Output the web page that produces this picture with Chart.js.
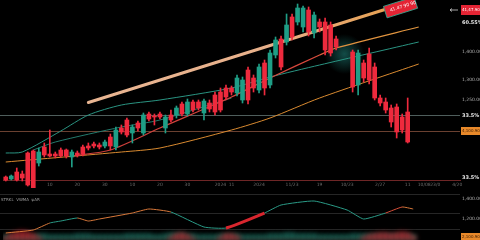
<!DOCTYPE html>
<html>
<head>
<meta charset="utf-8">
<script src="https://cdn.jsdelivr.net/npm/chart.js@4.4.1/dist/chart.umd.min.js"></script>
<style>
  html, body { margin: 0; padding: 0; background: #000; }
  #wrap { position: relative; width: 480px; height: 240px; overflow: hidden; background: #000; }
  #mainBox { position: absolute; left: 0; top: 0; width: 480px; height: 188px; }
  #subBox { position: absolute; left: 0; top: 190px; width: 480px; height: 50px; }
</style>
</head>
<body>
<div id="wrap">
  <div id="mainBox"><canvas id="mainChart"></canvas></div>
  <div id="subBox"><canvas id="subChart"></canvas></div>
</div>
<script>
const slots = 83;

// x axis tick labels (category index -> text)
const tickIdx = [8, 13, 18, 23, 28, 33, 39, 41, 46, 52, 57, 62, 68, 73, 76, 78, 82];
const tickText = ['10', '20', '30', '10', '20', '30', '2024', '11', '2024', '11/23', '19', '10/23', '2/27', '11', '10/08', '23/0', '4/20'];

// candles, one per category (null = no candle)
const openP = [303, 301, 308, 306, 327, 329, 317, 333, 326, 326, 330, 330, 323, 327, 333, 334, 336, 335, 334, 343,
  333, 352, 360, 347, 357, 347, 366, 364, 366, 352, 365, 365, 376, 366, 378, 378, 367, 377, 385, 388,
  392, 392, 387, 380, 410, 402, 390, 417, 395, 425, 441, 438, 463, 458, 453, 470, 447, 458, 458, 455,
  441, null, null, 428, 395, 417, 426, 413, 382, 378, 372, 373, 363, 368];
const closeP = [300, 304, 300, 302, 295, 290, 328, 325, 324, 324, 324, 324, 328, 325, 326, 332, 334, 333, 338, 334,
  350, 348, 345, 353, 352, 365, 361, 363, 363, 363, 360, 372, 366, 378, 370, 372, 379, 371, 368, 370,
  383, 388, 402, 400, 380, 392, 413, 392, 427, 440, 413, 455, 443, 472, 472, 448, 465, 453, 430, 427,
  433, null, null, 393, 427, 402, 400, 382, 377, 370, 358, 348, 350, 338];
const highP = [304, 305, 312, 309, 328, 330, 332, 337, 350, 328, 332, 331, 330, 329, 335, 337, 338, 337, 340, 346,
  353, 355, 362, 355, 359, 367, 368, 366, 368, 365, 370, 374, 378, 381, 380, 380, 381, 380, 388, 392,
  395, 394, 405, 403, 413, 405, 416, 420, 430, 443, 444, 466, 466, 476, 474, 473, 468, 461, 462, 458,
  444, null, null, 430, 430, 420, 432, 417, 385, 382, 375, 376, 366, 382];
const lowP = [299, 300, 299, 299, 294, 289, 314, 323, 323, 322, 323, 322, 313, 323, 324, 330, 332, 331, 332, 330,
  330, 346, 343, 337, 349, 345, 359, 355, 361, 347, 358, 362, 364, 364, 368, 370, 360, 368, 365, 368,
  380, 385, 384, 377, 376, 388, 387, 385, 392, 422, 410, 435, 440, 455, 448, 444, 442, 448, 425, 424,
  430, null, null, 388, 385, 398, 396, 380, 374, 367, 353, 342, 347, 337];

// moving averages and trend line: vertices (category index -> price)
const maFastIdx = [12, 19, 28, 41, 48, 57, 60, 75];
const maFastVal = [324, 330, 352, 383, 402, 425, 432, 453];
const maMidIdx = [0, 3, 10, 15, 21, 28, 41, 48, 57, 75];
const maMidVal = [327, 328, 349, 365, 375, 380, 392, 403, 415, 438];
const maSlowIdx = [0, 21, 28, 41, 48, 57, 75];
const maSlowVal = [318, 328, 332, 350, 362, 382, 416];
const bandIdx = [5, 9, 21, 28, 41];
const bandVal = [330, 338, 353, 360, 382];
const trendIdx = [15, 69];
const trendVal = [377.5, 470.8];

// horizontal levels
const levelVals = [365, 349];

// right side price labels
const priceLabelVals = [470, 457, 428, 400, 380, 364, 349, 302];
const priceLabelText = ['41,47.90', '60.55%', '1,400.00', '1,300.00', '1,250.00', '33.5%', '4,100.90', '33.5%'];
const trendTagText = '41.47 90 90';

// oscillator panel
const oscIdx = [0, 5, 8, 10, 13, 15, 17, 23, 26, 30, 36, 40, 47, 50, 56, 62, 65, 69, 72, 74];
const oscVal = [7, 10, 17, 19, 22, 19, 21, 27, 31, 28, 13, 12, 27, 35, 39, 30, 21, 27, 33, 31];
const tealVol = [5, 5, 5, 5, 5, 5, 6, 6, 5, 5, 5, 5, 5, 6, 6, 6, 5, 5, 5, 5,
  5, 5, 6, 6, 6, 6, 6, 5, 5, 6, 7, 7, 7, 6, 6, 5, 5, 5, 5, 6,
  6, 6, 6, 5, 5, 5, 5, 5, 6, 6, 6, 7, 7, 6, 6, 6, 6, 5, 5, 5,
  5, 5, 5, 6, 6, 6, 6, 6, 6, 6, 6, 6, 6, 6, 5];
const redVol = [3, 6, 8, 9, 8, 6, 3, 0, 0, 0, 0, 0, 0, 0, 0, 0, 0, 0, 0, 0,
  0, 0, 0, 0, 0, 0, 0, 0, 0, 0, 3, 6, 7, 5, 2, 0, 0, 0, 0, 3,
  6, 6, 4, 0, 0, 0, 0, 0, 0, 0, 0, 0, 0, 0, 0, 0, 0, 0, 0, 0,
  0, 0, 0, 0, 0, 3, 5, 6, 7, 7, 6, 7, 8, 7, 4];
const oscGrid = [46, 27, 11];
const oscLabelVals = [41, 21, 3];
const oscLabelText = ['1,400.00', '1,200.00', '2,100.90'];
const oscLegend = 'STRKL  VWMA  ψAR';

const UP = '#1f9e86';
const DOWN = '#ee2a3d';

const labels = [];
for (let i = 0; i < slots; i++) labels.push('');
tickIdx.forEach(function(idx, k) { labels[idx] = tickText[k]; });

function sparse(idx, vals) {
  const arr = new Array(slots).fill(null);
  idx.forEach(function(p, k) { arr[p] = vals[k]; });
  return arr;
}

const candleColors = openP.map(function(o, i) {
  return closeP[i] >= o ? UP : DOWN;
});
const bodies = openP.map(function(o, i) {
  if (o == null) return null;
  return [Math.min(o, closeP[i]), Math.max(o, closeP[i])];
});
const wicks = lowP.map(function(l, i) {
  return l == null ? null : [l, highP[i]];
});

function hGradient(stops) {
  return function(ctx) {
    const area = ctx.chart.chartArea;
    if (!area) return stops[0][1];
    const g = ctx.chart.ctx.createLinearGradient(area.left, 0, area.right, 0);
    stops.forEach(function(s) { g.addColorStop(s[0], s[1]); });
    return g;
  };
}

const mainDecor = {
  id: 'mainDecor',
  beforeDatasetsDraw: function(chart) {
    const ctx = chart.ctx;
    const area = chart.chartArea;
    const y = chart.scales.y;
    const x = chart.scales.x;
    ctx.save();
    // level lines
    ctx.lineWidth = 1;
    ctx.strokeStyle = '#4f5e5c';
    ctx.beginPath();
    ctx.moveTo(0, Math.round(y.getPixelForValue(levelVals[0])) + 0.5);
    ctx.lineTo(area.right, Math.round(y.getPixelForValue(levelVals[0])) + 0.5);
    ctx.stroke();
    ctx.strokeStyle = '#6a4030';
    ctx.beginPath();
    ctx.moveTo(0, Math.round(y.getPixelForValue(levelVals[1])) + 0.5);
    ctx.lineTo(area.right, Math.round(y.getPixelForValue(levelVals[1])) + 0.5);
    ctx.stroke();
    // teal glow in the gap
    const gx = (x.getPixelForValue(61) + x.getPixelForValue(62)) / 2;
    const gy = y.getPixelForValue(426);
    const rg = ctx.createRadialGradient(gx, gy, 0, gx, gy, 20);
    rg.addColorStop(0, 'rgba(40,170,160,0.45)');
    rg.addColorStop(1, 'rgba(40,170,160,0)');
    ctx.fillStyle = rg;
    ctx.fillRect(gx - 22, gy - 22, 44, 44);
    ctx.restore();
  },
  afterDraw: function(chart) {
    const ctx = chart.ctx;
    const y = chart.scales.y;
    const x = chart.scales.x;
    ctx.save();
    // tag at the end of the trend line
    const x0 = x.getPixelForValue(trendIdx[0]);
    const y0 = y.getPixelForValue(trendVal[0]);
    const x1 = x.getPixelForValue(trendIdx[1]);
    const y1 = y.getPixelForValue(trendVal[1]);
    const ang = Math.atan2(y1 - y0, x1 - x0);
    ctx.translate(x1 - 1, y1 + 1);
    ctx.rotate(ang);
    ctx.fillStyle = '#e42434';
    ctx.strokeStyle = '#3aa890';
    ctx.lineWidth = 0.8;
    ctx.fillRect(0, -4, 32, 12);
    ctx.strokeRect(0, -4, 32, 12);
    ctx.fillStyle = '#fff';
    ctx.font = '4.5px "DejaVu Sans"';
    ctx.textBaseline = 'middle';
    ctx.fillText(trendTagText, 5, 2);
    ctx.restore();

    // right labels
    ctx.save();
    ctx.textBaseline = 'middle';
    priceLabelVals.forEach(function(v, k) {
      const py = y.getPixelForValue(v);
      const txt = priceLabelText[k];
      if (k === 0) {
        ctx.fillStyle = '#e42434';
        ctx.fillRect(461, py - 5, 19, 10);
        ctx.fillStyle = '#fff';
        ctx.font = '4px "DejaVu Sans"';
        ctx.fillText(txt, 462, py);
        ctx.strokeStyle = '#ccc';
        ctx.lineWidth = 0.8;
        ctx.beginPath();
        ctx.moveTo(450, py); ctx.lineTo(458, py);
        ctx.moveTo(450, py); ctx.lineTo(452, py - 1.5);
        ctx.moveTo(450, py); ctx.lineTo(452, py + 1.5);
        ctx.stroke();
      } else if (k === 6) {
        ctx.fillStyle = '#e8892a';
        ctx.fillRect(461, py - 4, 19, 8);
        ctx.fillStyle = '#3a1a00';
        ctx.font = '4px "DejaVu Sans"';
        ctx.fillText(txt, 462, py);
      } else if (txt.indexOf('%') >= 0) {
        ctx.fillStyle = '#e8e8e8';
        ctx.font = 'bold 5px "DejaVu Sans"';
        ctx.fillText(txt, 462, py);
      } else {
        ctx.fillStyle = '#b0b0b0';
        ctx.font = '4.5px "DejaVu Sans"';
        ctx.fillText(txt, 462, py);
      }
    });
    ctx.restore();
  }
};

new Chart(document.getElementById('mainChart'), {
  data: {
    labels: labels,
    datasets: [
      {
        type: 'bar', data: bodies, backgroundColor: candleColors,
        barThickness: 4, grouped: false, order: 0, clip: false
      },
      {
        type: 'bar', data: wicks, backgroundColor: candleColors,
        barThickness: 1, grouped: false, order: 1, clip: false
      },
      {
        type: 'line', data: sparse(trendIdx, trendVal), spanGaps: true, pointRadius: 0,
        borderWidth: 3, order: 2, borderCapStyle: 'round',
        borderColor: hGradient([[0, '#e9b896'], [0.6, '#e8b08a'], [0.85, '#e6a050'], [1, '#e6a050']])
      },
      {
        type: 'line', data: sparse(maFastIdx, maFastVal), spanGaps: true, pointRadius: 0,
        borderWidth: 1.2, order: 3, tension: 0.25,
        borderColor: hGradient([[0, '#c8383a'], [0.68, '#d8483c'], [0.74, '#e0903e'], [1, '#e39a40']])
      },
      {
        type: 'line', data: sparse(maMidIdx, maMidVal), spanGaps: true, pointRadius: 0,
        borderWidth: 1, order: 4, tension: 0.25, borderColor: '#2a9482'
      },
      {
        type: 'line', data: sparse(maSlowIdx, maSlowVal), spanGaps: true, pointRadius: 0,
        borderWidth: 1, order: 5, tension: 0.25, borderColor: '#d98a30'
      },
      {
        type: 'line', data: sparse(bandIdx, bandVal), spanGaps: true, pointRadius: 0,
        borderWidth: 1, order: 6, tension: 0.25, borderColor: '#237a6c'
      }
    ]
  },
  options: {
    responsive: true,
    maintainAspectRatio: false,
    animation: false,
    layout: { padding: { left: 3, right: 20, top: 0, bottom: 0 } },
    plugins: { legend: { display: false }, tooltip: { enabled: false } },
    scales: {
      x: {
        type: 'category',
        offset: true,
        afterFit: function(scale) { scale.height = 8; },
        grid: { display: false, drawTicks: false },
        border: { display: true, color: '#6e2626', width: 1 },
        ticks: {
          autoSkip: false, maxRotation: 0, padding: 2,
          color: '#6c6c6c', font: { size: 4.5, family: 'DejaVu Sans' }
        }
      },
      y: { display: false, min: 300, max: 480 }
    }
  },
  plugins: [mainDecor]
});

const subDecor = {
  id: 'subDecor',
  beforeDatasetsDraw: function(chart) {
    const ctx = chart.ctx;
    const y = chart.scales.y;
    ctx.save();
    ctx.lineWidth = 1;
    ctx.strokeStyle = '#262626';
    oscGrid.forEach(function(v) {
      const py = Math.round(y.getPixelForValue(v)) + 0.5;
      ctx.beginPath();
      ctx.moveTo(0, py);
      ctx.lineTo(chart.chartArea.right, py);
      ctx.stroke();
    });
    ctx.fillStyle = '#9a9a9a';
    ctx.font = '4px "DejaVu Sans"';
    ctx.textBaseline = 'middle';
    ctx.fillText(oscLegend, 1, y.getPixelForValue(40));
    ctx.restore();
  },
  beforeDatasetDraw: function(chart, args) {
    const ds = chart.data.datasets[args.index];
    if (ds.blurPx) {
      chart.ctx.save();
      chart.ctx.filter = 'blur(' + ds.blurPx + 'px)';
    }
  },
  afterDatasetDraw: function(chart, args) {
    const ds = chart.data.datasets[args.index];
    if (ds.blurPx) chart.ctx.restore();
  },
  afterDraw: function(chart) {
    const ctx = chart.ctx;
    const y = chart.scales.y;
    ctx.save();
    ctx.textBaseline = 'middle';
    oscLabelVals.forEach(function(v, k) {
      const py = y.getPixelForValue(v);
      if (k === oscLabelVals.length - 1) {
        ctx.fillStyle = '#e8892a';
        ctx.fillRect(461, py - 4, 19, 8);
        ctx.fillStyle = '#3a1a00';
        ctx.font = '4px "DejaVu Sans"';
      } else {
        ctx.fillStyle = '#b0b0b0';
        ctx.font = '4.5px "DejaVu Sans"';
      }
      ctx.fillText(oscLabelText[k], 462, py);
    });
    ctx.restore();
  }
};

function oscSegColor(ctx) {
  const i = ctx.p0DataIndex;
  if (i >= 40 && i < 47) return '#d8262e';
  if ((i >= 8 && i < 13) || (i >= 30 && i < 40) || (i >= 47 && i < 69)) return '#2a9a86';
  if (i >= 69 && i < 72) return '#d8503a';
  return '#d8783a';
}

new Chart(document.getElementById('subChart'), {
  data: {
    labels: labels,
    datasets: [
      {
        type: 'line', data: sparse(oscIdx, oscVal), spanGaps: true, pointRadius: 0,
        borderWidth: 1, order: 0, tension: 0.15,
        segment: {
          borderColor: oscSegColor,
          borderWidth: function(ctx) { return ctx.p0DataIndex >= 40 && ctx.p0DataIndex < 47 ? 3 : 1; }
        }
      },
      {
        type: 'bar', data: redVol, backgroundColor: 'rgba(200,30,40,0.75)',
        barPercentage: 1, categoryPercentage: 1, grouped: false, order: 1, blurPx: 2.5
      },
      {
        type: 'bar', data: tealVol, backgroundColor: 'rgba(30,120,105,0.8)',
        barPercentage: 1, categoryPercentage: 1, grouped: false, order: 2, blurPx: 2
      }
    ]
  },
  options: {
    responsive: true,
    maintainAspectRatio: false,
    animation: false,
    layout: { padding: { left: 3, right: 20, top: 0, bottom: 0 } },
    plugins: { legend: { display: false }, tooltip: { enabled: false } },
    scales: {
      x: { type: 'category', offset: true, display: false },
      y: { display: false, min: 0, max: 50 }
    }
  },
  plugins: [subDecor]
});
</script>
</body>
</html>
